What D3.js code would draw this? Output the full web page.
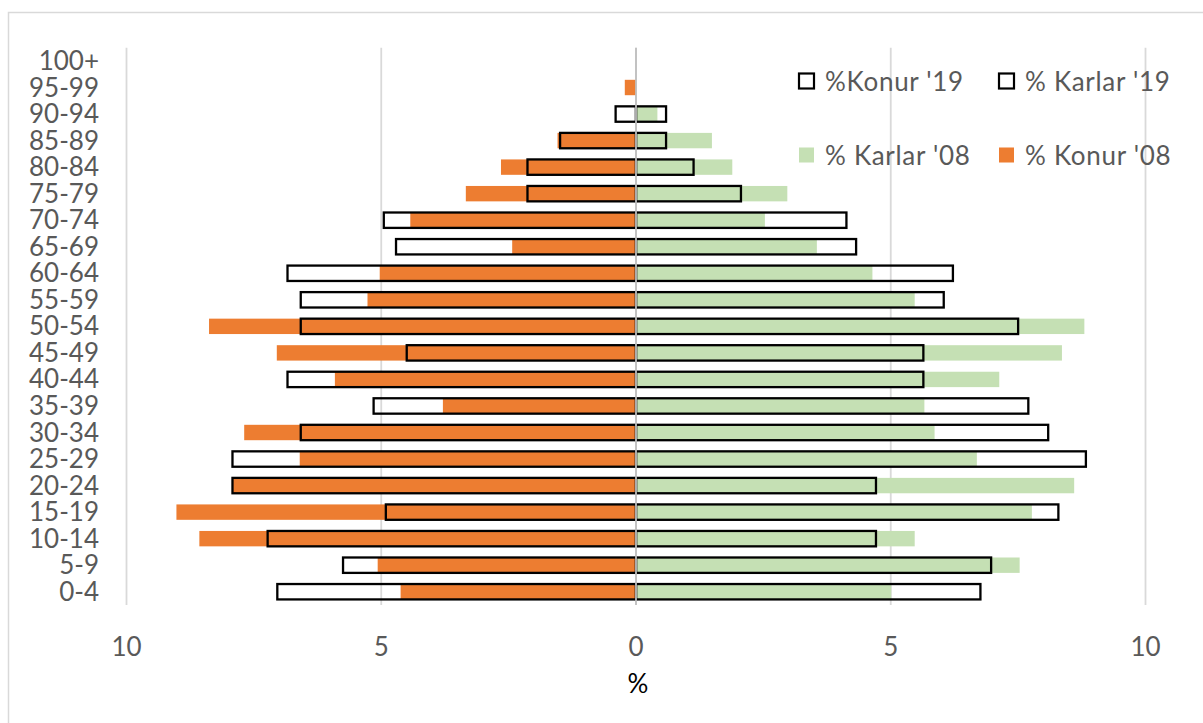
<!DOCTYPE html>
<html>
<head>
<meta charset="utf-8">
<script src="https://cdn.jsdelivr.net/npm/d3@7"></script>
<style>
  html, body { margin: 0; padding: 0; background: #fff; }
  svg { display: block; }
</style>
</head>
<body>
<svg id="chart" width="1203" height="723"></svg>
<script>
const categories = ["100+","95-99","90-94","85-89","80-84","75-79","70-74","65-69","60-64","55-59","50-54","45-49","40-44","35-39","30-34","25-29","20-24","15-19","10-14","5-9","0-4"];
const konur08  = [0, 0.22, 0, 1.54, 2.65, 3.34, 4.43, 2.43, 5.03, 5.27, 8.38, 7.05, 5.91, 3.79, 7.69, 6.6, 7.92, 9.02, 8.57, 5.07, 4.62];
const konur19  = [0, 0, 0.40, 1.49, 2.13, 2.13, 4.95, 4.71, 6.84, 6.58, 6.58, 4.5, 6.84, 5.15, 6.58, 7.92, 7.92, 4.91, 7.23, 5.75, 7.04];
const karlar08 = [0, 0, 0.42, 1.49, 1.89, 2.97, 2.53, 3.55, 4.64, 5.47, 8.8, 8.36, 7.13, 5.66, 5.86, 6.69, 8.6, 7.77, 5.47, 7.53, 5.01];
const karlar19 = [0, 0, 0.59, 0.59, 1.13, 2.06, 4.13, 4.32, 6.22, 6.04, 7.5, 5.64, 5.64, 7.7, 8.09, 8.83, 4.71, 8.29, 4.71, 6.97, 6.76];
const xTicks = [-10, -5, 0, 5, 10];
const xTickLabels = ["10", "5", "0", "5", "10"];
const legendLabels = ["%Konur '19", "% Karlar '19", "% Karlar '08", "% Konur '08"];

const svg = d3.select("#chart");
const FONT = "Lato, 'Open Sans', sans-serif";
const TXT = "#595959";

// outer chart border
svg.append("rect").attr("x", 8.5).attr("y", 12.5).attr("width", 1210).attr("height", 720)
  .attr("fill", "#fff").attr("stroke", "#d9d9d9").attr("stroke-width", 1.5);

const x = d3.scaleLinear().domain([-10, 10]).range([126.5, 1145.5]);
const y = d3.scaleBand().domain(categories).range([47.7, 605]).paddingInner(0.42).paddingOuter(0.21);

// gridlines
svg.append("g").selectAll("line").data(xTicks).join("line")
  .attr("x1", d => x(d)).attr("x2", d => x(d))
  .attr("y1", 47.7).attr("y2", 605)
  .attr("stroke", "#d9d9d9").attr("stroke-width", 1.8);

const rows = categories.map((c, i) => ({c, k08: konur08[i], k19: konur19[i], m08: karlar08[i], m19: karlar19[i]}));

// filled 2008 bars
svg.append("g").selectAll("rect").data(rows.filter(d => d.k08 > 0)).join("rect")
  .attr("x", d => x(-d.k08)).attr("width", d => x(0) - x(-d.k08))
  .attr("y", d => y(d.c)).attr("height", y.bandwidth())
  .attr("fill", "#ED7D31");
svg.append("g").selectAll("rect").data(rows.filter(d => d.m08 > 0)).join("rect")
  .attr("x", x(0)).attr("width", d => x(d.m08) - x(0))
  .attr("y", d => y(d.c)).attr("height", y.bandwidth())
  .attr("fill", "#C5E0B4");

// outlined 2019 bars
svg.append("g").selectAll("rect").data(rows.filter(d => d.k19 > 0)).join("rect")
  .attr("x", d => x(-d.k19)).attr("width", d => x(0) - x(-d.k19))
  .attr("y", d => y(d.c)).attr("height", y.bandwidth())
  .attr("fill", "none").attr("stroke", "#000").attr("stroke-width", 2.3);
svg.append("g").selectAll("rect").data(rows.filter(d => d.m19 > 0)).join("rect")
  .attr("x", x(0)).attr("width", d => x(d.m19) - x(0))
  .attr("y", d => y(d.c)).attr("height", y.bandwidth())
  .attr("fill", "none").attr("stroke", "#000").attr("stroke-width", 2.3);

// zero axis line
svg.append("line").attr("x1", x(0)).attr("x2", x(0)).attr("y1", 47.7).attr("y2", 605)
  .attr("stroke", "#bfbfbf").attr("stroke-width", 1.8);

// category labels
svg.append("g").selectAll("text").data(categories).join("text")
  .attr("x", 99).attr("y", d => y(d) + y.bandwidth() / 2 - 1)
  .attr("text-anchor", "end").attr("dominant-baseline", "central")
  .attr("font-family", FONT).attr("font-size", 26).attr("fill", TXT)
  .text(d => d);

// x tick labels
svg.append("g").selectAll("text").data(xTicks).join("text")
  .attr("x", d => x(d)).attr("y", 646)
  .attr("text-anchor", "middle").attr("dominant-baseline", "central")
  .attr("font-family", FONT).attr("font-size", 26).attr("fill", TXT)
  .text((d, i) => xTickLabels[i]);

// axis title
svg.append("text").attr("x", x(0) + 2).attr("y", 683)
  .attr("text-anchor", "middle").attr("dominant-baseline", "central")
  .attr("font-family", FONT).attr("font-size", 26).attr("fill", "#000")
  .text("%");

// legend
const legendItems = [
  {label: legendLabels[0], x: 798, y: 81, fill: "#fff", stroke: "#000"},
  {label: legendLabels[1], x: 998, y: 81, fill: "#fff", stroke: "#000"},
  {label: legendLabels[2], x: 798, y: 155, fill: "#C5E0B4", stroke: "none"},
  {label: legendLabels[3], x: 998, y: 155, fill: "#ED7D31", stroke: "none"}
];
const lg = svg.append("g").selectAll("g").data(legendItems).join("g")
  .attr("transform", d => `translate(${d.x},${d.y})`);
lg.append("rect").attr("x", 1).attr("y", -7.5).attr("width", 15).attr("height", 15)
  .attr("fill", d => d.fill).attr("stroke", d => d.stroke).attr("stroke-width", 2.2);
lg.append("text").attr("x", 27).attr("y", 0).attr("dominant-baseline", "central")
  .attr("font-family", FONT).attr("font-size", 26).attr("letter-spacing", 0.7).attr("fill", TXT)
  .text(d => d.label);
</script>
</body>
</html>
